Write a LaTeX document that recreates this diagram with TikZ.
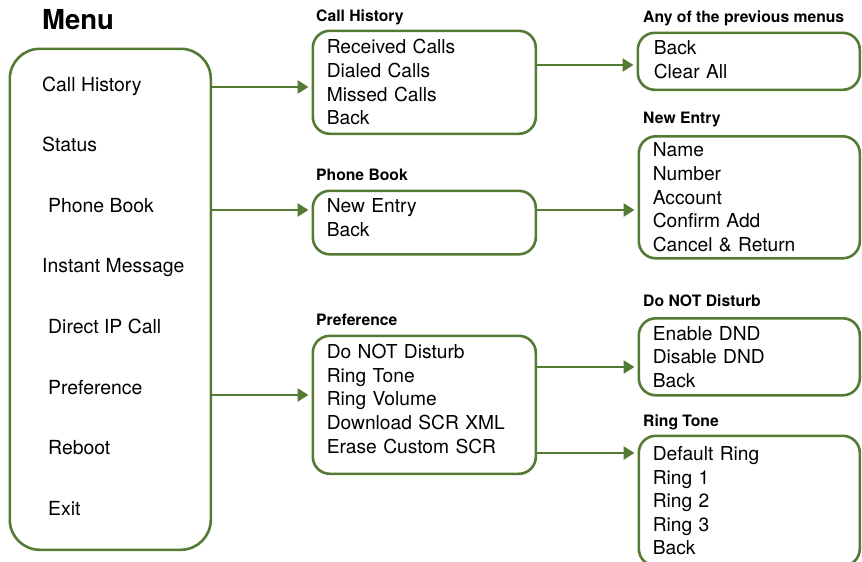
\documentclass[tikz,border=0pt]{standalone}
\usepackage{fontspec}
\setmainfont{TeX Gyre Heros}
\usetikzlibrary{arrows.meta}
\definecolor{menugreen}{RGB}{84,122,52}

\begin{document}
\begin{tikzpicture}[x=1pt, y=-1pt,
		box/.style={draw=menugreen, line width=2.6pt, rounded corners=17pt, anchor=north west, align=left, inner xsep=14pt, inner ysep=0pt, font=\fontsize{19.2}{23.6}\selectfont},
		item/.style={anchor=base west, inner sep=0pt, font=\fontsize{19.4}{22}\selectfont},
		head/.style={anchor=base west, inner sep=0pt, font=\fontsize{15.7}{18}\selectfont\bfseries},
		link/.style={draw=menugreen, line width=2.6pt, shorten >=3pt, -{Triangle[length=11pt,width=13pt]}}]
		\useasboundingbox (0,0) rectangle (862,562);
		% main menu
		\node[anchor=base west, inner sep=0pt, font=\fontsize{27.5}{30}\selectfont\bfseries] (title) at (42,29.5) {Menu};
		\node[box, rounded corners=30pt, minimum width=201pt, minimum height=501pt] (menu) at (8.5,47.5) {};
		\node[item] (ci1) at (42,91) {Call History};
		\node[item] (ci2) at (42,151.6) {Status};
		\node[item] (ci3) at (48,212.2) {Phone Book};
		\node[item] (ci4) at (42,272.8) {Instant Message};
		\node[item] (ci5) at (48,333.4) {Direct IP Call};
		\node[item] (ci6) at (48,394) {Preference};
		\node[item] (ci7) at (48,454.6) {Reboot};
		\node[item] (ci8) at (48,515.2) {Exit};
		% sub menus
		\node[head] at (316,21) {Call History};
		\node[box, text width=195pt, minimum width=223pt, minimum height=103pt] (hist) at (311.5,29.5)
			{Received Calls\\Dialed Calls\\Missed Calls\\Back};
		\node[head] at (316,180) {Phone Book};
		\node[box, text width=195pt, text depth=33.6pt, minimum width=223pt, minimum height=63.5pt] (book) at (311.5,189.5)
			{New Entry\\Back};
		\node[head] at (316,325) {Preference};
		\node[box, text width=195pt, text depth=106.4pt, minimum width=223pt, minimum height=138pt] (pref) at (311.5,334.5)
			{Do NOT Disturb\\Ring Tone\\Ring Volume\\Download SCR XML\\Erase Custom SCR};
		% third level
		\node[head] at (643,22) {Any of the previous menus};
		\node[box, inner xsep=16pt, text width=190pt, text depth=27.6pt, minimum width=222pt, minimum height=57pt] (prev) at (636.5,31.5)
			{Back\\Clear All};
		\node[head] at (643,123) {New Entry};
		\node[box, text width=193pt, minimum width=221pt, minimum height=122pt] (entry) at (637.5,135)
			{Name\\Number\\Account\\Confirm Add\\Cancel \& Return};
		\node[head] at (643,306) {Do NOT Disturb};
		\node[box, text width=193pt, minimum width=221pt, minimum height=77pt] (dnd) at (637.5,317)
			{Enable DND\\Disable DND\\Back};
		\node[head] at (643,426.5) {Ring Tone};
		\node[box, text width=193pt, minimum width=221pt, minimum height=130pt] (ring) at (637.5,434.5)
			{Default Ring\\Ring 1\\Ring 2\\Ring 3\\Back};
		% arrows
		\draw[link] (menu.east |- 0,87) -- (hist.west |- 0,87);
		\draw[link] (menu.east |- 0,210) -- (book.west |- 0,210);
		\draw[link] (menu.east |- 0,395) -- (pref.west |- 0,395);
		\draw[link] (hist.east |- 0,65) -- (prev.west |- 0,65);
		\draw[link] (book.east |- 0,210) -- (entry.west |- 0,210);
		\draw[link] (pref.east |- 0,367) -- (dnd.west |- 0,367);
		\draw[link] (pref.east |- 0,453) -- (ring.west |- 0,453);
	\end{tikzpicture}
\end{document}
